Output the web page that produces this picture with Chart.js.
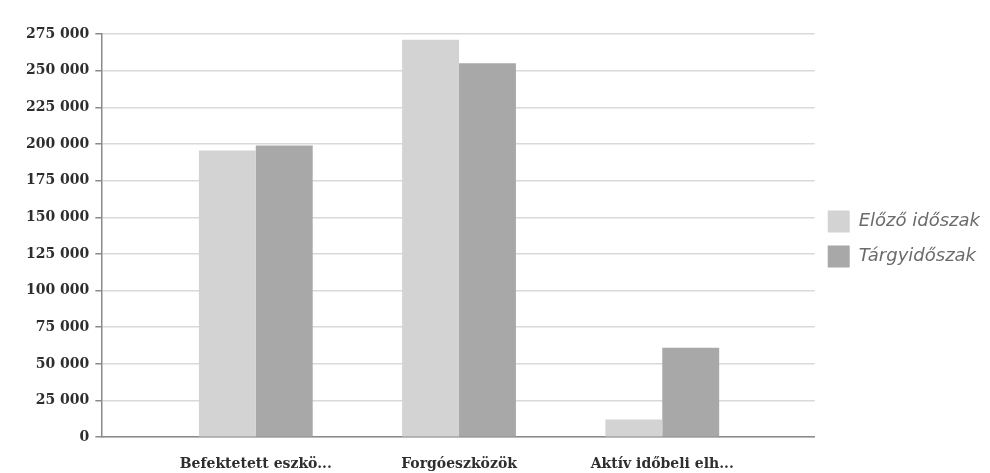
<!DOCTYPE html>
<html>
<head>
<meta charset="utf-8">
<script src="https://cdn.jsdelivr.net/npm/chart.js@4"></script>
<style>
  html, body { margin: 0; padding: 0; background: #fff; }
  #wrap { width: 990px; height: 473px; position: relative; }
</style>
</head>
<body>
<div id="wrap"><canvas id="c"></canvas></div>
<script>
const categories = ['Befektetett eszkö...', 'Forgóeszközök', 'Aktív időbeli elh...'];
const seriesNames = ['Előző időszak', 'Tárgyidőszak'];
const elozoValues = [195500, 271000, 12000];
const targyValues = [199000, 255000, 61000];
const yTicks = [0, 25000, 50000, 75000, 100000, 125000, 150000, 175000, 200000, 225000, 250000, 275000];

const fmt = v => String(v).replace(/\B(?=(\d{3})+(?!\d))/g, ' ');
const toPoints = arr => arr.map((v, i) => ({ x: i, y: v }));

new Chart(document.getElementById('c'), {
  type: 'bar',
  data: {
    datasets: [
      { label: seriesNames[0], data: toPoints(elozoValues), backgroundColor: '#d3d3d3', borderWidth: 0 },
      { label: seriesNames[1], data: toPoints(targyValues), backgroundColor: '#a8a8a8', borderWidth: 0 }
    ]
  },
  options: {
    responsive: true,
    maintainAspectRatio: false,
    animation: false,
    categoryPercentage: 0.56,
    barPercentage: 1.0,
    layout: { padding: { top: 34, left: 20, right: 0, bottom: 0 } },
    plugins: {
      tooltip: { enabled: false },
      legend: {
        position: 'right',
        align: 'start',
        title: { display: true, text: '', font: { size: 12 }, padding: { top: 0, bottom: 149 } },
        labels: {
          boxWidth: 22,
          boxHeight: 22,
          padding: 13,
          color: '#6b6b6b',
          font: { family: 'DejaVu Sans', style: 'italic', size: 18 }
        }
      }
    },
    scales: {
      x: {
        type: 'linear',
        offset: false,
        bounds: 'data',
        min: -0.76,
        max: 2.75,
        afterBuildTicks: s => { s.ticks = categories.map((_, i) => ({ value: i })); },
        grid: { display: false, offset: false, tickLength: 19 },
        border: { display: true, color: '#8a8a8a', width: 1.5 },
        ticks: {
          padding: 0,
          maxRotation: 0,
          autoSkip: false,
          color: '#2e2e2e',
          font: { family: 'DejaVu Serif', weight: 'bold', size: 14 },
          callback: v => categories[v] ?? ''
        }
      },
      y: {
        min: 0,
        max: yTicks[yTicks.length - 1],
        afterBuildTicks: s => { s.ticks = yTicks.map(v => ({ value: v })); },
        grid: { color: '#d9d9d9', lineWidth: 1.5, tickLength: 6, tickColor: '#8a8a8a' },
        border: { display: true, color: '#8a8a8a', width: 1.5 },
        ticks: {
          padding: 6,
          color: '#2e2e2e',
          font: { family: 'DejaVu Serif', weight: 'bold', size: 14 },
          callback: v => fmt(v)
        }
      }
    }
  }
});
</script>
</body>
</html>
